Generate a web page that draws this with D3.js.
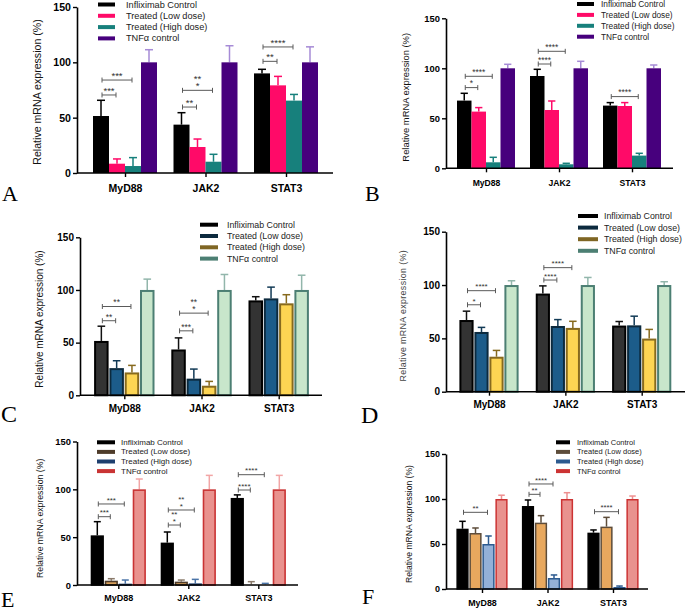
<!DOCTYPE html>
<html><head><meta charset="utf-8">
<script src="https://cdn.jsdelivr.net/npm/d3@7"></script>
<style>body{margin:0;background:#fff}svg{display:block}</style>
</head><body>
<svg id="chart" width="685" height="612"></svg>
<script>
const categories = ["MyD88", "JAK2", "STAT3"];
const seriesNames = ["Infliximab Control", "Treated (Low dose)", "Treated (High dose)", "TNFα control"];
const yTicks = [0, 50, 100, 150];

// Panel A  (rows = series, columns = categories)
const meansA = [[51.5, 43.7, 90.0], [8.4, 23.5, 79.2], [6.3, 10.2, 65.4], [100, 100, 100]];
const errorsA = [[14.2, 10.8, 3.7], [4.3, 7.2, 8.1], [7.6, 6.7, 5.6], [11.4, 15.0, 14.0]];
const sigA = [["MyD88", 0, 1, 70.5, "***"], ["MyD88", 0, 2, 84, "***"], ["JAK2", 0, 1, 59.6, "**"], ["JAK2", 0, 2, 74.7, "**\n*"], ["STAT3", 0, 1, 100.9, "**"], ["STAT3", 0, 2, 113.9, "****"]];

// Panel B
const meansB = [[67.7, 92.3, 62.7], [56.7, 58.3, 62.3], [6.0, 4.0, 12.7], [100, 100, 100]];
const errorsB = [[7.3, 6.7, 3.0], [4.0, 9.0, 3.4], [5.0, 1.0, 2.3], [4.0, 7.0, 3.3]];
const sigB = [["MyD88", 0, 1, 80.7, "*"], ["MyD88", 0, 2, 92, "****"], ["JAK2", 0, 1, 104.3, "****"], ["JAK2", 0, 2, 117, "****"], ["STAT3", 0, 2, 71.7, "****"]];

// Panel C
const meansC = [[51.6, 43.5, 90.1], [25.8, 15.8, 92.0], [21.7, 9.1, 87.3], [100, 100, 100]];
const errorsC = [[14.0, 11.0, 3.5], [7.0, 9.1, 10.7], [6.7, 4.1, 8.2], [10.3, 14.7, 14.0]];
const sigC = [["MyD88", 0, 1, 70.8, "**"], ["MyD88", 0, 2, 84.3, "**"], ["JAK2", 0, 1, 61.2, "***"], ["JAK2", 0, 2, 78, "**\n*"]];

// Panel D
const meansD = [[67.2, 92.0, 62.0], [56.0, 61.6, 62.2], [32.8, 59.8, 49.8], [100, 100, 100]];
const errorsD = [[8.3, 7.2, 3.8], [4.3, 6.0, 8.6], [5.9, 6.2, 8.6], [4.0, 7.1, 3.1]];
const sigD = [["MyD88", 0, 1, 81.5, "*"], ["MyD88", 0, 2, 94.7, "****"], ["JAK2", 0, 1, 104.7, "****"], ["JAK2", 0, 2, 116.3, "****"]];

// Panel E
const meansE = [[51.9, 44.3, 91.0], [4.5, 3.5, 0.8], [1.4, 1.7, 0.7], [100, 100, 100]];
const errorsE = [[14.3, 11.1, 3.2], [2.1, 1.7, 2.7], [3.8, 4.2, 1.0], [10.8, 14.6, 14.6]];
const sigE = [["MyD88", 0, 1, 71.4, "***"], ["MyD88", 0, 2, 84.7, "***"], ["JAK2", 0, 1, 62.7, "**\n*"], ["JAK2", 0, 2, 78.4, "**\n*"], ["STAT3", 0, 1, 99.3, "****"], ["STAT3", 0, 2, 115.3, "****"]];

// Panel F
const meansF = [[67.0, 92.2, 62.6], [62.2, 73.7, 69.3], [50.0, 12.2, 2.2], [100, 100, 100]];
const errorsF = [[8.2, 6.7, 3.0], [5.6, 7.8, 10.3], [8.9, 3.4, 1.1], [4.2, 7.0, 3.3]];
const sigF = [["MyD88", 0, 2, 85.2, "**"], ["JAK2", 0, 1, 105.2, "**"], ["JAK2", 0, 2, 116.7, "****"], ["STAT3", 0, 2, 85.9, "****"]];

// colour schemes
const schemeAB = {
  fill: ["#000000", "#ff0a68", "#17807c", "#47007d"],
  stroke: null,
  err: ["#000000", "#ff0a68", "#17807c", "#a68bd6"],
  legend: ["#000000", "#ff0a68", "#17807c", "#47007d"]
};
const schemeCD = {
  fill: ["#333333", "#1c5c8a", "#fdd553", "#c8e6cb"],
  stroke: ["#000000", "#0c2a3e", "#876a1e", "#4c7f73"],
  err: ["#111111", "#123a56", "#876a1e", "#92b6ab"],
  legend: ["#000000", "#0c2a3e", "#7f6624", "#4c7f73"]
};
const schemeE = {
  fill: ["#000000", "#d9a05a", "#2d5f9c", "#e9928e"],
  stroke: ["#000000", "#4e3c2a", "#1e3f6e", "#c93434"],
  err: ["#000000", "#8a7a6a", "#4a74a8", "#f2a6a6"],
  legend: ["#000000", "#4e3c2a", "#1e3f6e", "#c93434"]
};
const schemeF = {
  fill: ["#000000", "#e8a85e", "#93b1d8", "#e9928e"],
  stroke: ["#000000", "#5d4c3a", "#2c5a8f", "#cc3333"],
  err: ["#000000", "#5d4c3a", "#2c5a8f", "#ee8f8f"],
  legend: ["#000000", "#5d4c3a", "#2c5a8f", "#cc3333"]
};

const panels = [
  {letter: "A", means: meansA, errors: errorsA, sig: sigA, scheme: schemeAB,
   x0: 77, x1: 333, yB: 173, yT: 7, c0: 125, c2: 286, bw: 16, sw: 0,
   tickFont: 10.6, catFont: 10.5, catDy: 18.5, titleFont: 10.6, titleX: 37, titleY: 92,
   leg: {x: 98, w: 17, tx: 126, y0: 4.5, dy: 11.3, font: 9.2},
   let: {x: 2, y: 201, size: 22}, starFont: 9.5},
  {letter: "B", means: meansB, errors: errorsB, sig: sigB, scheme: schemeAB,
   x0: 446, x1: 673, yB: 168.3, yT: 18.3, c0: 486, c2: 632, bw: 14.5, sw: 0,
   tickFont: 9.4, catFont: 8.6, catDy: 18, titleFont: 9.4, titleX: 405, titleY: 97.3,
   leg: {x: 577, w: 17, tx: 601, y0: 4, dy: 10.9, font: 8.3},
   let: {x: 365, y: 201, size: 22}, starFont: 8.5},
  {letter: "C", means: meansC, errors: errorsC, sig: sigC, scheme: schemeCD,
   x0: 80, x1: 322, yB: 395.3, yT: 237.3, c0: 124.3, c2: 278.7, bw: 15.3, sw: 2,
   tickFont: 10, catFont: 10, catDy: 17, titleFont: 10, titleX: 39, titleY: 319,
   leg: {x: 200, w: 18, tx: 227, y0: 224.7, dy: 11.3, font: 8.8},
   let: {x: 1, y: 422, size: 24}, starFont: 8.5},
  {letter: "D", means: meansD, errors: errorsD, sig: sigD, scheme: schemeCD,
   x0: 446, x1: 685, yB: 391.7, yT: 231.7, c0: 489, c2: 641.7, bw: 15, sw: 2,
   tickFont: 10, catFont: 10, catDy: 16.5, titleFont: 9.3, titleX: 403, titleY: 315.8, titleThin: true,
   leg: {x: 578, w: 20, tx: 604, y0: 216, dy: 11.6, font: 8.8},
   let: {x: 361, y: 423, size: 24}, starFont: 8},
  {letter: "E", means: meansE, errors: errorsE, sig: sigE, scheme: schemeE,
   x0: 77, x1: 298, yB: 585, yT: 441.5, c0: 118.3, c2: 258.3, bw: 14, sw: 1.6,
   tickFont: 9.4, catFont: 9, catDy: 15.5, titleFont: 8.7, titleX: 40, titleY: 518.3,
   leg: {x: 97, w: 18, tx: 121, y0: 442.3, dy: 9.6, font: 8},
   let: {x: 1, y: 607, size: 22}, starFont: 8},
  {letter: "F", means: meansF, errors: errorsF, sig: sigF, scheme: schemeF,
   x0: 446, x1: 648, yB: 589, yT: 454, c0: 482, c2: 613, bw: 13, sw: 1.5,
   tickFont: 9, catFont: 8.9, catDy: 16.5, titleFont: 8.6, titleX: 409, titleY: 524,
   leg: {x: 556, w: 14, tx: 577, y0: 442.3, dy: 9.6, font: 7.5},
   let: {x: 362, y: 604, size: 22}, starFont: 7.8}
];

const svg = d3.select("#chart");
const SANS = "'Liberation Sans', Arial, Helvetica, sans-serif";

function drawPanel(p) {
  const g = svg.append("g");
  const y = d3.scaleLinear().domain([0, 150]).range([p.yB, p.yT]);
  const x = d3.scalePoint().domain(categories).range([p.c0, p.c2]);
  const xs = d3.scaleBand().domain(d3.range(seriesNames.length)).range([-2 * p.bw, 2 * p.bw]).paddingInner(0);
  const sc = p.scheme;

  const barData = [];
  p.means.forEach((row, si) => row.forEach((v, ci) => barData.push({si, ci, v, e: p.errors[si][ci]})));

  // error bars
  const capW = p.bw * 0.5;
  const eg = g.append("g");
  barData.forEach(d => {
    const cx = x(categories[d.ci]) + xs(d.si) + xs.bandwidth() / 2;
    const yTop = y(d.v + d.e), yBar = y(d.v);
    eg.append("line").attr("x1", cx).attr("x2", cx).attr("y1", yBar).attr("y2", yTop)
      .attr("stroke", sc.err[d.si]).attr("stroke-width", 1.5);
    eg.append("line").attr("x1", cx - capW / 2).attr("x2", cx + capW / 2).attr("y1", yTop).attr("y2", yTop)
      .attr("stroke", sc.err[d.si]).attr("stroke-width", 1.5);
  });

  // bars
  const bg = g.append("g");
  barData.forEach(d => {
    const bx = x(categories[d.ci]) + xs(d.si);
    const sw = p.sw;
    const yb = y(d.v);
    const r = bg.append("rect")
      .attr("x", bx + sw / 2 + (sw ? 0.4 : 0))
      .attr("y", yb + sw / 2)
      .attr("width", Math.max(0, xs.bandwidth() - sw - (sw ? 0.8 : 0)))
      .attr("height", Math.max(0, p.yB - yb - sw / 2))
      .attr("fill", sc.fill[d.si]);
    if (sw) r.attr("stroke", sc.stroke[d.si]).attr("stroke-width", sw);
  });

  // significance brackets
  const sg = g.append("g");
  p.sig.forEach(([cat, a, b, val, lab]) => {
    const cx = x(cat);
    const xa = cx + xs(a) + xs.bandwidth() / 2 + 1;
    const xb = cx + xs(b) + xs.bandwidth() / 2 - 1;
    const yy = y(val);
    sg.append("path")
      .attr("d", `M${xa},${yy - 2.5}V${yy + 2.5}M${xa},${yy}H${xb}M${xb},${yy - 2.5}V${yy + 2.5}`)
      .attr("fill", "none").attr("stroke", "#5a5a5a").attr("stroke-width", 1);
    const lines = lab.split("\n");
    const gap = 6.7;
    const t = sg.append("text")
      .attr("text-anchor", "middle")
      .attr("font-family", SANS)
      .attr("font-size", p.starFont)
      .attr("fill", "#333");
    lines.forEach((s, i) => {
      t.append("tspan")
        .attr("x", (xa + xb) / 2)
        .attr("y", yy - 1.2 - (lines.length - 1 - i) * gap)
        .text(s);
    });
  });

  // y axis
  const yAxisG = g.append("g").attr("transform", `translate(${p.x0},0)`)
    .call(d3.axisLeft(y).tickValues(yTicks).tickSize(4).tickSizeOuter(0).tickPadding(2));
  yAxisG.select(".domain").attr("stroke", "#000").attr("stroke-width", 1.6);
  yAxisG.selectAll(".tick line").attr("stroke", "#000").attr("stroke-width", 1.4);
  yAxisG.selectAll(".tick text").attr("font-family", SANS).attr("font-size", p.tickFont)
    .attr("font-weight", "bold").attr("fill", "#000");

  // x axis
  const xAxisG = g.append("g").attr("transform", `translate(0,${p.yB})`)
    .call(d3.axisBottom(x).tickSize(4).tickSizeOuter(0).tickPadding(2));
  xAxisG.select(".domain").remove();
  xAxisG.append("line").attr("x1", p.x0).attr("x2", p.x1).attr("y1", 0).attr("y2", 0)
    .attr("stroke", "#000").attr("stroke-width", 1.6);
  xAxisG.selectAll(".tick line").attr("stroke", "#000").attr("stroke-width", 1.4);
  xAxisG.selectAll(".tick text").attr("font-family", SANS).attr("font-size", p.catFont)
    .attr("font-weight", "bold").attr("fill", "#000")
    .attr("dy", null).attr("y", p.catDy);

  // y title
  const tt = g.append("text")
    .attr("transform", `translate(${p.titleX},${p.titleY}) rotate(-90)`)
    .attr("text-anchor", "middle").attr("dominant-baseline", "central")
    .attr("font-family", SANS).attr("font-size", p.titleFont).attr("fill", "#111")
    .text("Relative mRNA expression (%)");
  if (p.titleThin) tt.attr("fill", "#444").attr("letter-spacing", 0.35).attr("font-size", p.titleFont - 0.4);

  // legend
  const lg = g.append("g");
  seriesNames.forEach((name, i) => {
    const ly = p.leg.y0 + i * p.leg.dy;
    lg.append("rect").attr("x", p.leg.x).attr("y", ly - 2).attr("width", p.leg.w).attr("height", 4)
      .attr("fill", sc.legend[i]);
    lg.append("text").attr("x", p.leg.tx).attr("y", ly).attr("dominant-baseline", "central")
      .attr("font-family", SANS).attr("font-size", p.leg.font).attr("fill", "#222").text(name);
  });

  // panel letter
  g.append("text").attr("x", p.let.x).attr("y", p.let.y)
    .attr("font-family", "'Liberation Serif', 'Times New Roman', serif")
    .attr("font-size", p.let.size).attr("fill", "#000").text(p.letter);
}

panels.forEach(drawPanel);
</script>
</body></html>
